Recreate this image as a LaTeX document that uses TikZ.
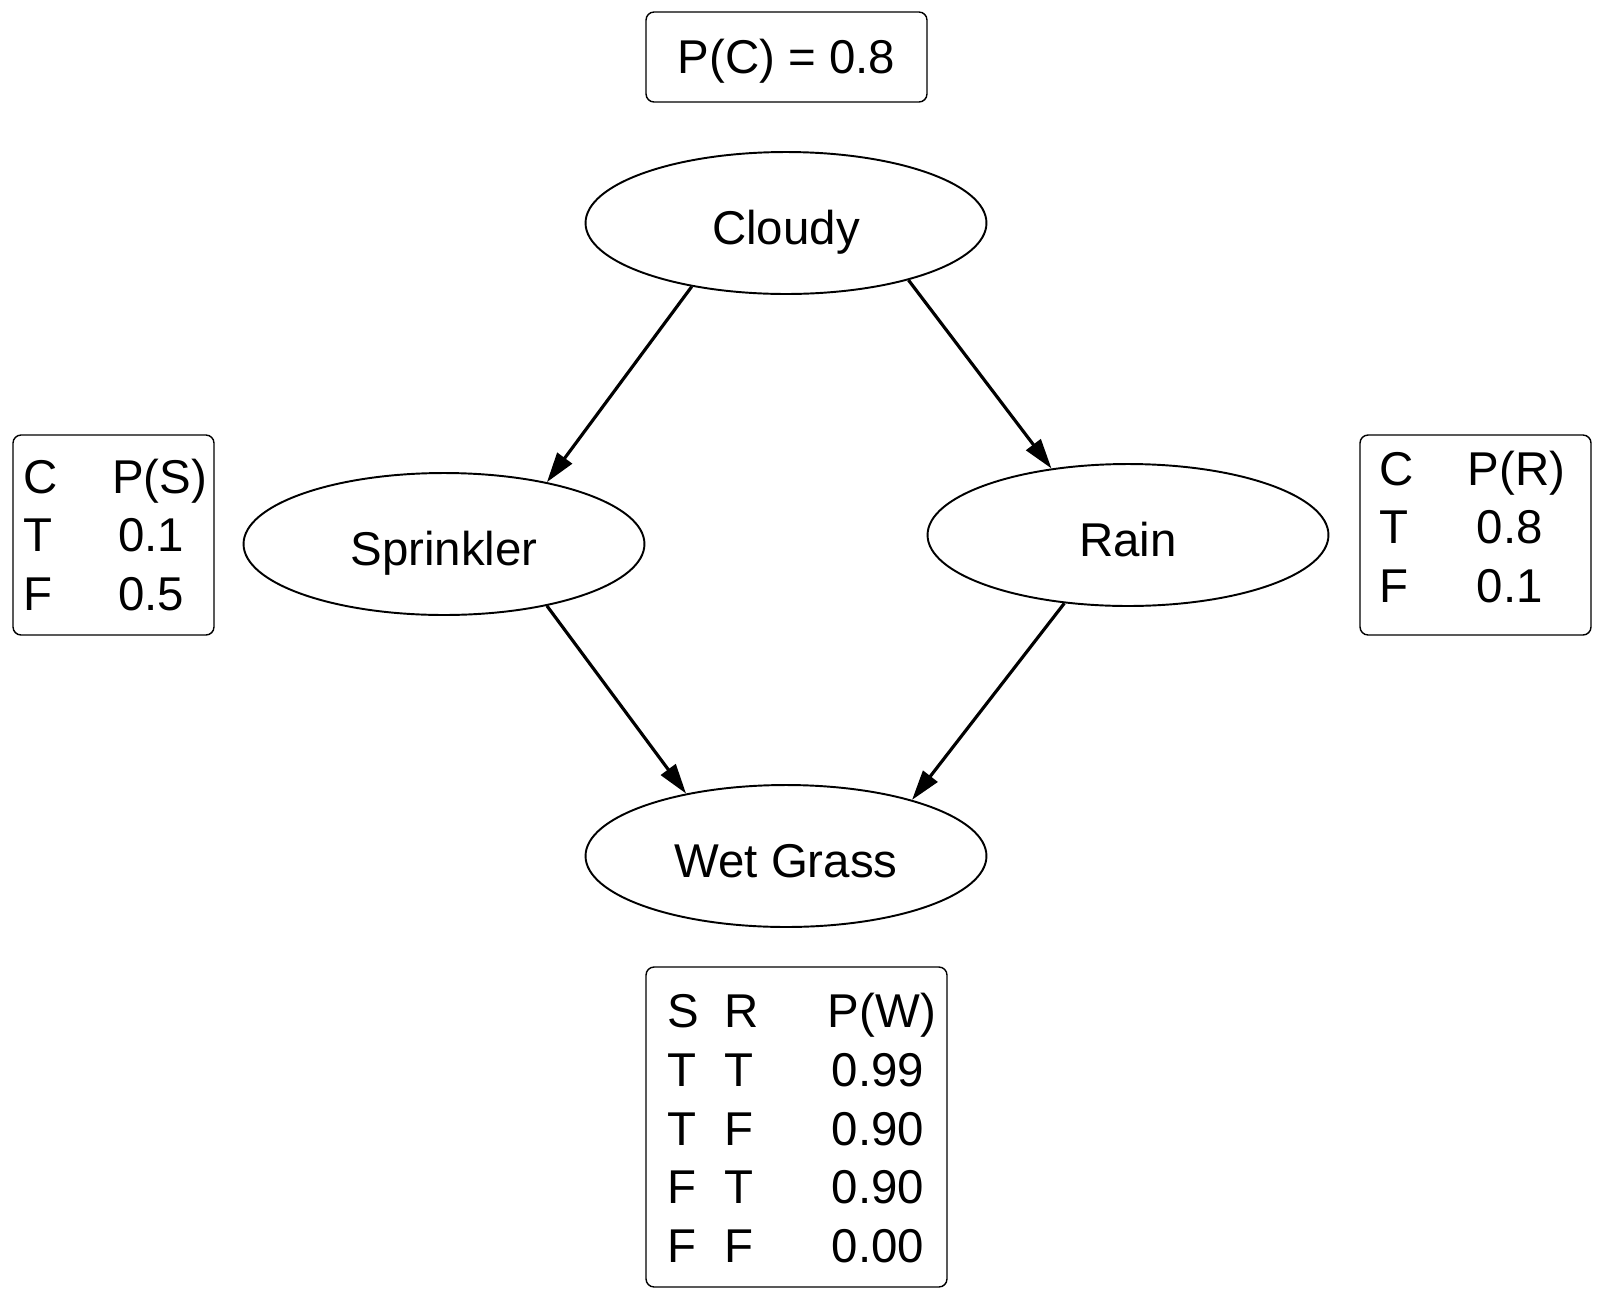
\documentclass[tikz,border=0pt]{standalone}
\usepackage{fontspec}
\setmainfont{Liberation Sans}
\usetikzlibrary{shapes.geometric,arrows.meta}

\def\ll{0.02}

\begin{document}
\begin{tikzpicture}[x=\ll cm, y=-\ll cm,
  font=\fontsize{27}{33.4}\selectfont,
  var node/.style={ellipse,draw,line width=1.1pt,inner sep=0pt,minimum width=8.02cm,minimum height=2.84cm,text height=23.9pt,text depth=0pt},
  cpt box/.style={draw,rounded corners=0.16cm,line width=0.8pt,inner sep=0pt},
  cpt text/.style={inner sep=0pt},
  my edge/.style={line width=1.8pt,-{Triangle[length=0.6cm,width=0.36cm]}}]
\useasboundingbox (0,0) rectangle (1606,1302);

\node[cpt box,minimum width=5.62cm,minimum height=1.8cm,text height=19.3pt,text depth=0pt] (pc) at (786.5,57) {P(C) = 0.8};

\node[var node] (cloudy)    at ( 786, 223) {Cloudy};
\node[var node] (sprinkler) at ( 444, 544) {Sprinkler};
\node[var node] (rain)      at (1128, 535) {Rain};
\node[var node] (wet)       at ( 786, 856) {Wet Grass};

\draw[my edge] (cloudy.214)    -- (sprinkler.31);
\draw[my edge] (cloudy.335)    -- (rain.139);
\draw[my edge] (sprinkler.329) -- (wet.148);
\draw[my edge] (rain.227)      -- (wet.24);

\node[cpt box,minimum width=4.02cm,minimum height=4cm] (sbox) at (113.5,535) {};
\node[cpt text] (stab) at (115.5,540) {\begin{tabular}{@{}l@{\hspace{1.08cm}}l@{}}
C & P(S)\\ T & \hspace{0.12cm}0.1\\ F & \hspace{0.12cm}0.5
\end{tabular}};

\node[cpt box,minimum width=4.62cm,minimum height=4cm] (rbox) at (1475.5,535) {};
\node[cpt text] (rtab) at (1472.5,532) {\begin{tabular}{@{}l@{\hspace{1.08cm}}l@{}}
C & P(R)\\ T & \hspace{0.18cm}0.8\\ F & \hspace{0.18cm}0.1
\end{tabular}};

\node[cpt box,minimum width=6.02cm,minimum height=6.4cm] (wbox) at (796.5,1127) {};
\node[cpt text] (wtab) at (801.5,1133.5) {\begin{tabular}{@{}l@{\hspace{0.52cm}}l@{\hspace{1.38cm}}l@{}}
S & R & P(W)\\ T & T & \hspace{0.08cm}0.99\\ T & F & \hspace{0.08cm}0.90\\ F & T & \hspace{0.08cm}0.90\\ F & F & \hspace{0.08cm}0.00
\end{tabular}};
\end{tikzpicture}
\end{document}
